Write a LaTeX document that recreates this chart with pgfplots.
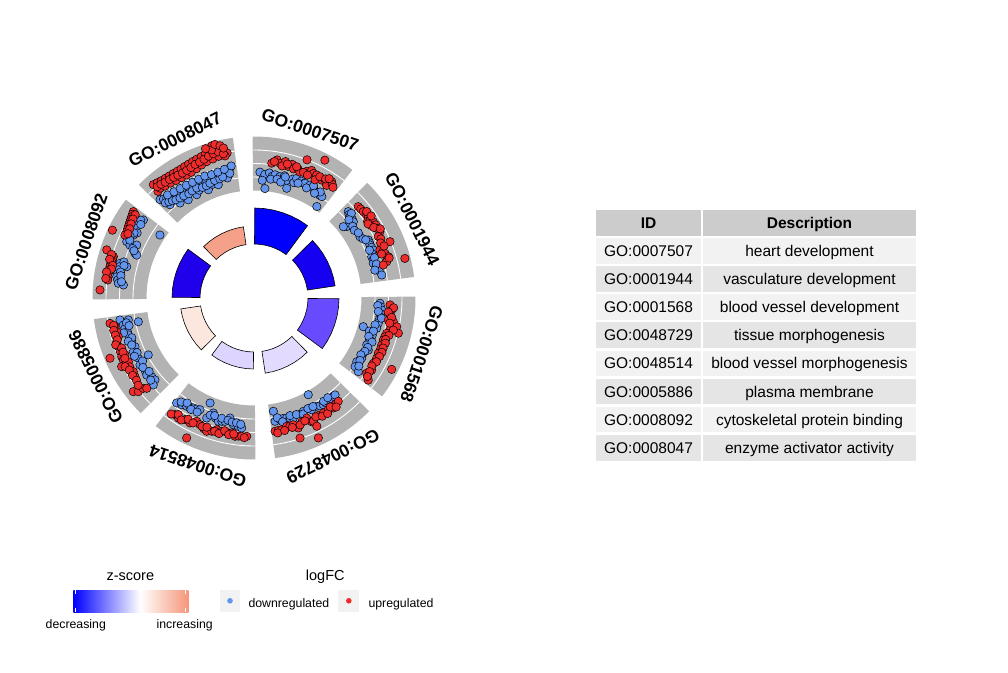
\documentclass[border=0pt]{standalone}
\usepackage{fontspec}
\setmainfont{Liberation Sans}
\usepackage{pgfplots}
\usepgfplotslibrary{polar}
\pgfplotsset{compat=1.18}
\definecolor{gbg}{RGB}{179,179,179}
\definecolor{dblue}{RGB}{100,149,237}
\definecolor{dred}{RGB}{238,44,44}
\definecolor{zA}{RGB}{0,0,255}
\definecolor{zB}{RGB}{22,0,242}
\definecolor{zC}{RGB}{104,74,255}
\definecolor{zD}{RGB}{226,219,255}
\definecolor{zE}{RGB}{221,213,255}
\definecolor{zF}{RGB}{252,231,222}
\definecolor{zG}{RGB}{32,0,235}
\definecolor{zH}{RGB}{245,160,137}
\definecolor{salm}{RGB}{246,150,122}
\definecolor{g95}{RGB}{242,242,242}
\definecolor{g90}{RGB}{229,229,229}
\definecolor{g80}{RGB}{204,204,204}
\pgfdeclarehorizontalshading{zscore}{100bp}{color(0bp)=(zA); color(25bp)=(zA); color(54bp)=(white); color(75bp)=(salm); color(100bp)=(salm)}
\pgfplotsset{
  dotB/.style={data cs=polar, only marks, mark=*, mark size=4.2pt, mark options={fill=dblue, draw=black, line width=0.5pt}},
  dotR/.style={data cs=polar, only marks, mark=*, mark size=4.2pt, mark options={fill=dred, draw=black, line width=0.5pt}},
  bar/.style={data cs=polar, draw=black, line width=0.6pt, fill=#1},
}
\begin{document}
\begin{tikzpicture}[x=1pt,y=1pt]
\useasboundingbox (0,0) rectangle (1008,672);
\coordinate (c) at (254,374);
% grey outer sectors with white guide lines
\foreach \a in {71.5,26.5,-18.5,-63.5,-108.5,-153.5,161.5,116.5}{
  \pgfmathsetmacro\as{\a-19}
  \pgfmathsetmacro\ae{\a+19}
  \fill[gbg] ([shift={(\as:161.5)}]c) arc[start angle=\as, end angle=\ae, radius=161.5] -- ([shift={(\ae:107.5)}]c) arc[start angle=\ae, end angle=\as, radius=107.5] -- cycle;
  \foreach \r in {121,134.5,148}{
    \draw[white, line width=0.9pt] ([shift={(\as:\r)}]c) arc[start angle=\as, end angle=\ae, radius=\r];
  }
}
% sector labels
\foreach \a/\t in {71.5/GO:0007507, 26.5/GO:0001944, -18.5/GO:0001568, -63.5/GO:0048729, -108.5/GO:0048514, -153.5/GO:0005886, 161.5/GO:0008092, 116.5/GO:0008047}{
  \pgfmathsetmacro\rot{\a-90}
  \node[font=\bfseries\fontsize{17.5}{20}\selectfont, rotate=\rot, inner sep=0pt] at ([shift={(\a:177)}]c) {\t};
}
\begin{axis}[at={(c)}, anchor=center, x=1pt, y=1pt, xmin=-200, xmax=200, ymin=-200, ymax=200, hide axis, clip=false]
% inner bars (count -> height, z-score -> colour)
\addplot[bar=zA] coordinates {(53.5,90)(59.5,90)(65.5,90)(71.5,90)(77.5,90)(83.5,90)(89.5,90)(89.5,54)(83.5,54)(77.5,54)(71.5,54)(65.5,54)(59.5,54)(53.5,54)} --cycle;
\addplot[bar=zB] coordinates {(8.5,82)(14.5,82)(20.5,82)(26.5,82)(32.5,82)(38.5,82)(44.5,82)(44.5,54)(38.5,54)(32.5,54)(26.5,54)(20.5,54)(14.5,54)(8.5,54)} --cycle;
\addplot[bar=zC] coordinates {(-36.5,85)(-30.5,85)(-24.5,85)(-18.5,85)(-12.5,85)(-6.5,85)(-0.5,85)(-0.5,54)(-6.5,54)(-12.5,54)(-18.5,54)(-24.5,54)(-30.5,54)(-36.5,54)} --cycle;
\addplot[bar=zD] coordinates {(-81.5,76)(-75.5,76)(-69.5,76)(-63.5,76)(-57.5,76)(-51.5,76)(-45.5,76)(-45.5,54)(-51.5,54)(-57.5,54)(-63.5,54)(-69.5,54)(-75.5,54)(-81.5,54)} --cycle;
\addplot[bar=zE] coordinates {(-126.5,71)(-120.5,71)(-114.5,71)(-108.5,71)(-102.5,71)(-96.5,71)(-90.5,71)(-90.5,54)(-96.5,54)(-102.5,54)(-108.5,54)(-114.5,54)(-120.5,54)(-126.5,54)} --cycle;
\addplot[bar=zF] coordinates {(-171.5,74)(-165.5,74)(-159.5,74)(-153.5,74)(-147.5,74)(-141.5,74)(-135.5,74)(-135.5,54)(-141.5,54)(-147.5,54)(-153.5,54)(-159.5,54)(-165.5,54)(-171.5,54)} --cycle;
\addplot[bar=zG] coordinates {(143.5,82)(149.5,82)(155.5,82)(161.5,82)(167.5,82)(173.5,82)(179.5,82)(179.5,54)(173.5,54)(167.5,54)(161.5,54)(155.5,54)(149.5,54)(143.5,54)} --cycle;
\addplot[bar=zH] coordinates {(98.5,72)(104.5,72)(110.5,72)(116.5,72)(122.5,72)(128.5,72)(134.5,72)(134.5,54)(128.5,54)(122.5,54)(116.5,54)(110.5,54)(104.5,54)(98.5,54)} --cycle;
% GO:0007507
\addplot[dotB] coordinates {(87.3,126)(85.5,121)(85,124)(83,126)(81.5,123)(80.3,125)(78,124)(76,126)(74.5,122)(84.3,110)(73.4,114.5)(72,125)(71,122)(70.4,127)(68,126)(66.5,125)(66,125.5)(63.6,126)(61,124)(59,123)(57.4,122)(56.2,122)(55.5,111)(86,118)(82,120)(79,121)(77,119)(75.5,125)(69,123)(64.5,122)(62,127)(58,125)(60,121)};
\addplot[dotR] coordinates {(82.5,136)(80.5,140)(79,137)(77,140)(75.5,136)(74,139)(73,135)(71,136)(70,134)(69,148)(67.5,137)(65.7,140)(64.5,138)(63,138)(62.7,133)(62.8,155)(60,136)(58.5,137)(57.2,134)(56.3,140)(55.5,138)(81.5,138)(78,135)(76,138)(72,138)(68.5,135)(66.5,134)(61.5,138)(59,139)(57.8,141)(54.5,136)};
% GO:0001944
\addplot[dotB] coordinates {(42.5,127.8)(41.3,126.5)(40.3,125.8)(38.8,126)(37.5,125.2)(37.6,117)(38.6,114.3)(30,122.4)(28.5,124)(26.9,128.2)(25.6,128)(24.6,127.5)(23.3,128)(21.9,128.6)(20.5,126)(19.3,124.7)(17.7,125)(16.2,124.2)(14.3,126.6)(12.3,128)(10.2,129.8)(41,129)(39.5,123)(36,122)(34,121)(32,123)(27.5,126)(22.5,125)(18.5,127)(15.5,127)(13,124)};
\addplot[dotR] coordinates {(41.2,138.6)(39.8,139)(38.3,139.3)(36.8,140)(35.4,140.3)(34,137)(33.9,139.8)(32.6,141.6)(31.5,138)(31,142)(29.6,141.1)(27.8,142.4)(26.3,138.6)(22.5,147.2)(20.9,134.8)(19.8,137)(18.8,138.4)(17.1,140.5)(16,138)(15.3,137.6)(14.7,156)(14.3,133.4)(37.5,142)(35,143)(33,136)(30.5,139)(28.7,144)(25,140)(23.5,138)(21.8,140)(19,135)(16.5,141)};
% GO:0001568
\addplot[dotB] coordinates {(-2.4,126.1)(-4,127)(-5.4,128.3)(-7,127.5)(-8.4,127.4)(-10,127)(-11.5,126.8)(-13.9,126.4)(-14.7,113)(-16,120)(-17.5,124)(-19.9,123.4)(-21.2,123)(-22.6,122.1)(-24.5,125.6)(-26.8,122.5)(-29.2,123.4)(-31.8,120.9)(-34.2,122.2)(-35.2,127.7)(-3.5,124)(-6.2,125)(-9,129)(-12.5,124)(-15.5,124)(-18.5,121)(-20.5,126)(-23.5,124)(-25.7,123)(-28,121)(-30.5,123)(-33,125)};
\addplot[dotR] coordinates {(-2.9,136.2)(-5,138.2)(-7,137)(-9.3,136.1)(-9.7,141.3)(-11.4,145.6)(-12.5,140)(-13.7,148.6)(-14.9,137.3)(-16.5,136.5)(-18,136)(-20.2,136.1)(-22,136.5)(-24,136)(-26.2,136.7)(-27.4,155.1)(-28.7,136)(-31.5,138)(-33.7,135.5)(-35.7,140.7)(-4,140)(-6,135)(-8,139)(-10.5,138)(-13,143)(-15.5,140)(-17.5,138)(-19,139)(-21.2,138.5)(-23,139)(-25,138.5)(-27.5,138)(-30,136)(-32.5,137)(-34.7,138)};
% GO:0048729
\addplot[dotB] coordinates {(-80.3,114.9)(-80.3,125.1)(-77.9,124.4)(-76.4,124)(-74.8,124.4)(-73.3,125.5)(-71.9,126.3)(-68,125)(-66.5,123.6)(-60.7,110.9)(-62.7,125.7)(-59.9,125.1)(-58.5,126.5)(-57,127.2)(-55.6,127)(-54.3,127.2)(-52.7,126.5)(-51.1,126.3)(-50.1,126.4)(-79,122)(-77,127)(-73,123)(-70,124)(-67,126)(-64,123)(-61.5,123.5)(-56,124.5)(-53.5,124)};
\addplot[dotR] coordinates {(-81,134.9)(-79.5,134.5)(-78.1,134.6)(-75.7,132.4)(-74.3,133)(-72.8,132.7)(-71.2,137.3)(-71.8,147.4)(-69,133)(-66.3,131.1)(-65,136.5)(-64.3,136.8)(-63.9,142.8)(-65.3,154)(-61,134)(-58.9,134.3)(-56.4,134.2)(-54.2,135.6)(-52.5,134)(-50.8,133.3)(-80,137)(-77,136)(-73.5,135)(-70,135)(-67.5,133)(-62.5,134)(-60,136.5)(-57.5,137)(-55,133)(-53,136.5)};
% GO:0048514
\addplot[dotB] coordinates {(-126.4,130.4)(-124.1,128.9)(-121.9,127.5)(-120.4,126.5)(-118.9,125.6)(-117.3,125)(-115.8,124.1)(-112.7,113.8)(-111.5,129)(-109.5,122)(-107.8,126)(-106.1,128.4)(-104.6,127.5)(-103.2,126.7)(-101.3,122.4)(-99.3,128.4)(-97,129.3)(-95.4,130.6)(-125,127)(-122.5,124.5)(-119.5,128)(-116.5,127.5)(-110.5,125)(-108.5,124)(-105,124.5)(-102,125)(-100,126)(-98,126)(-96,127)};
\addplot[dotR] coordinates {(-124.1,140.9)(-122.2,141.9)(-119.6,139.9)(-117.1,140.4)(-114.9,136)(-113.1,137.7)(-115.7,155.3)(-111,140)(-109.5,141.4)(-107.6,139.8)(-105.8,136.9)(-103.6,137.2)(-101.5,137)(-99.4,136.8)(-97.8,139.6)(-96.4,139)(-95.1,138.8)(-93,138.5)(-125.5,142.5)(-123,139)(-120.8,142)(-118.5,138)(-116,139)(-112,138.5)(-110,137.5)(-106.5,139)(-104.5,140)(-102.5,136)(-100.5,139)(-98.5,137.5)(-94,140)};
% GO:0005886
\addplot[dotB] coordinates {(-170.7,135.8)(-170.1,127.6)(-168.4,118.1)(-168.3,133.5)(-166.8,132.5)(-165,131)(-163.6,131)(-160.3,129.9)(-157.7,128.6)(-156,132.1)(-152.5,130.5)(-151.7,120.1)(-149.6,132.2)(-146,131)(-144.3,132.1)(-142.4,129.1)(-140.4,128.5)(-139.2,133.1)(-169,130)(-167.5,128)(-165,135)(-162,128.5)(-161,133)(-159,131)(-155,129)(-154,133)(-150.5,128)(-148,131)(-145,128)(-141.5,132)};
\addplot[dotR] coordinates {(-170,146.2)(-168.3,141.9)(-166.2,141.4)(-164.1,141.1)(-162.3,144.1)(-160.3,144.2)(-158,144)(-156.1,144.7)(-156.2,141)(-154.6,144.7)(-153.1,140.9)(-157.3,156.1)(-152.6,149.1)(-151,142)(-148.6,141.4)(-146.5,142.7)(-142.2,152.8)(-141,148.9)(-140.8,142.9)(-139.9,140.2)(-169,143)(-167,144)(-165,143.5)(-163,143)(-161.3,146)(-159.3,141.5)(-157.5,141.8)(-155,142.5)(-152,146)(-150,144)(-147.5,144)(-145,143.5)(-143,145)};
% GO:0008092
\addplot[dotB] coordinates {(146,139.5)(144.8,135.4)(148,139)(149.6,137.9)(150.9,133.8)(152.5,136)(156.1,139.2)(156.9,134.9)(155.7,128.7)(159.4,127.1)(159.9,124.9)(146.2,113.2)(166.2,131.1)(165.5,138.4)(167,138.5)(168.3,138.6)(170,138.8)(171.2,138.9)(172.5,137.5)(173.8,136.5)(174.3,131.3)(145.5,137.5)(147,135)(151.5,136.5)(153.5,138.5)(155,137)(157.8,131)(158.5,129)(164.5,135)(166,134)(169,136)(170.5,135)(173,133.5)};
\addplot[dotR] coordinates {(144.4,148.4)(145.4,147.6)(146.4,146.9)(147.4,146.2)(148.4,145.6)(149.4,145)(150.4,144.5)(151.5,144)(152.5,143.5)(154,143.6)(154.4,157)(161.9,154.9)(163.6,146.6)(164.6,146.7)(165.7,146.9)(166.7,147.2)(167.7,147.4)(169,147.6)(170.4,147.8)(171.7,147.6)(173,147.4)(177,154.2)(145,145)(146.9,144.5)(148.9,143.5)(150.9,142.2)(153,141.5)(163,149)(165,149.5)(167,145)(168.5,145.5)(170,149.8)(172.5,149.5)};
% GO:0008047
\addplot[dotB] coordinates {(133.7,136)(132.5,134)(131.1,132.7)(129.5,131)(127.5,130)(125.2,128.5)(123,127.8)(120.8,127.2)(118.5,127.1)(116.3,127.5)(114,126.5)(112,125.9)(110,126.5)(107.5,127.5)(105.4,127.9)(103.5,128.8)(102.2,129.6)(100.5,132.2)(99.8,134)(132,125.5)(127.9,120.4)(123.8,118.2)(119,118.1)(117,121)(112.9,117.5)(110,121)(107.5,118.8)(102.5,123)(133,130)(131.5,128.5)(130,127)(128.5,125.5)(126.5,124.5)(124.5,124)(122,123)(120,123.8)(117.5,124)(115,122)(113,122)(111,123)(108.5,124)(106,124)(104.5,125)(101,127)(130,134.5)(127,133)(124,132)(121,131.5)(118,131)(115,131)(112,131.5)(109,130.5)(106,131)(103,132)};
\addplot[dotR] coordinates {(131.6,151.6)(130,150.5)(128.3,149.5)(126.5,149)(124.8,148.5)(123,148.3)(121.2,148.2)(119.5,148.2)(117.8,148.6)(116,149)(114.2,149.6)(112.4,150.2)(110.5,150.9)(108.7,152)(107,156)(105.5,158)(104.6,155)(103,152)(101.5,149)(100.5,147.5)(132,143.5)(130.5,144.5)(128.5,143)(126,142)(123.5,141)(121,140.5)(118.7,140.2)(116.5,140.5)(114,141.5)(111.5,143)(109.1,144.3)(106.5,145)(104,146)(101.5,145)(131,147.5)(129.3,147)(127.5,146)(125.5,145.5)(123.7,145)(121.8,144.5)(119.8,144)(117.8,144.3)(115.8,145)(113.8,146)(111.8,146.5)(109.8,147.5)(107.8,149)(105.8,150)(103.8,150.5)(102,147.5)(106,154)(108,157)(104.3,158.5)(102.6,156)(101.5,153)};
\end{axis}
% table
\fill[g80] (596.2,436.2) rectangle (700.8,462.3);
\fill[g80] (703.2,436.2) rectangle (915.8,462.3);
\node[font=\bfseries\fontsize{15.5}{18}\selectfont, anchor=base] at (648.5,443.6) {ID};
\node[font=\bfseries\fontsize{15.5}{18}\selectfont, anchor=base] at (809.5,443.6) {Description};
\foreach \i/\id/\desc in {0/GO:0007507/heart development, 1/GO:0001944/vasculature development, 2/GO:0001568/blood vessel development, 3/GO:0048729/tissue morphogenesis, 4/GO:0048514/blood vessel morphogenesis, 5/GO:0005886/plasma membrane, 6/GO:0008092/cytoskeletal protein binding, 7/GO:0008047/enzyme activator activity}{
  \pgfmathsetmacro\yt{433.8-28.1*\i}
  \pgfmathsetmacro\yb{\yt-25.7}
  \pgfmathsetmacro\yc{\yt-12.85-5.55}
  \pgfmathtruncatemacro\odd{mod(\i,2)}
  \ifnum\odd=0 \def\cc{g95}\else\def\cc{g90}\fi
  \fill[\cc] (596.2,\yb) rectangle (700.8,\yt);
  \fill[\cc] (703.2,\yb) rectangle (915.8,\yt);
  \node[font=\fontsize{15.5}{18}\selectfont, anchor=base] at (648.5,\yc) {\id};
  \node[font=\fontsize{15.5}{18}\selectfont, anchor=base] at (809.5,\yc) {\desc};
}
% legend: z-score
\node[font=\fontsize{14.5}{17}\selectfont, anchor=base] at (130.3,91.3) {z-score};
\shade[shading=zscore] (73.3,59.7) rectangle (188.3,82);
\foreach \xx in {75,185.7}{
  \draw[white, line width=0.8pt] (\xx,82) -- (\xx,78);
  \draw[white, line width=0.8pt] (\xx,59.7) -- (\xx,63.7);
}
\node[font=\fontsize{12.3}{14}\selectfont, anchor=base] at (75.8,43.2) {decreasing};
\node[font=\fontsize{12.3}{14}\selectfont, anchor=base] at (184.7,43.2) {increasing};
% legend: logFC
\node[font=\fontsize{14.5}{17}\selectfont, anchor=base] at (325.3,91.3) {logFC};
\fill[g95] (220,60.3) rectangle (240,82);
\fill[g95] (338.3,60.3) rectangle (359.3,82);
\fill[dblue] (230,71.2) circle (2.8);
\fill[dred] (348.8,71.2) circle (2.8);
\node[font=\fontsize{12.3}{14}\selectfont, anchor=base west, inner sep=0pt] at (248.3,64.8) {downregulated};
\node[font=\fontsize{12.3}{14}\selectfont, anchor=base west, inner sep=0pt] at (368.3,64.8) {upregulated};
\end{tikzpicture}
\end{document}
